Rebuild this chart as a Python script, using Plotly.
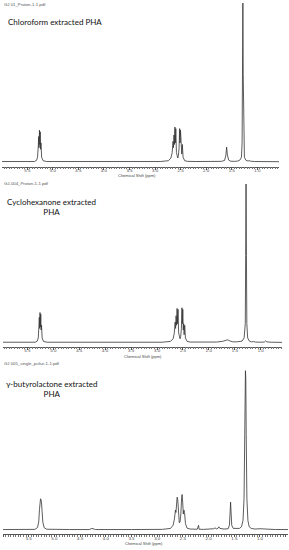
import plotly.graph_objects as go

W, H = 289, 550

# ---- spectrum data (ppm, relative intensity) ----
spec_chloroform = [
    (5.995, 0.003), (5.60, 0.002), (5.36, 0.003), (5.32, 0.01), (5.30, 0.03),
    (5.285, 0.10), (5.278, 0.16), (5.27, 0.09), (5.262, 0.20), (5.255, 0.11),
    (5.247, 0.19), (5.24, 0.08), (5.232, 0.12), (5.22, 0.03), (5.19, 0.008),
    (5.12, 0.003), (4.60, 0.002), (4.00, 0.002), (3.40, 0.002), (2.90, 0.003),
    (2.74, 0.008), (2.69, 0.025), (2.665, 0.06), (2.648, 0.13), (2.640, 0.09),
    (2.630, 0.17), (2.621, 0.11), (2.612, 0.22), (2.603, 0.12), (2.594, 0.21),
    (2.582, 0.06), (2.568, 0.03), (2.556, 0.025), (2.543, 0.04), (2.530, 0.09),
    (2.519, 0.21), (2.511, 0.12), (2.503, 0.20), (2.494, 0.08), (2.486, 0.12),
    (2.477, 0.05), (2.466, 0.11), (2.452, 0.03), (2.42, 0.008), (2.36, 0.004),
    (2.20, 0.003), (1.90, 0.003), (1.70, 0.004), (1.64, 0.01), (1.615, 0.04),
    (1.60, 0.094), (1.585, 0.045), (1.56, 0.012), (1.52, 0.005), (1.45, 0.004),
    (1.38, 0.006), (1.34, 0.012), (1.31, 0.03), (1.297, 0.12), (1.289, 0.55),
    (1.282, 1.0), (1.275, 0.55), (1.267, 0.12), (1.252, 0.03), (1.22, 0.01),
    (1.18, 0.006), (1.16, 0.009), (1.13, 0.005), (1.05, 0.003), (0.85, 0.002),
    (0.575, 0.002),
]

spec_cyclohexanone = [
    (5.97, 0.003), (5.60, 0.002), (5.35, 0.003), (5.31, 0.01), (5.29, 0.03),
    (5.278, 0.10), (5.27, 0.16), (5.263, 0.09), (5.256, 0.19), (5.249, 0.10),
    (5.242, 0.18), (5.235, 0.08), (5.227, 0.11), (5.215, 0.03), (5.19, 0.008),
    (5.12, 0.003), (4.60, 0.002), (4.00, 0.002), (3.40, 0.002), (2.90, 0.003),
    (2.74, 0.008), (2.69, 0.025), (2.667, 0.06), (2.650, 0.13), (2.642, 0.09),
    (2.632, 0.17), (2.623, 0.11), (2.613, 0.216), (2.604, 0.12), (2.595, 0.21),
    (2.583, 0.06), (2.568, 0.03), (2.556, 0.025), (2.543, 0.04), (2.530, 0.09),
    (2.519, 0.22), (2.511, 0.12), (2.503, 0.21), (2.494, 0.08), (2.486, 0.12),
    (2.477, 0.05), (2.466, 0.11), (2.452, 0.03), (2.42, 0.008), (2.36, 0.004),
    (2.10, 0.003), (1.85, 0.004), (1.74, 0.008), (1.68, 0.015), (1.64, 0.018),
    (1.60, 0.012), (1.55, 0.006), (1.47, 0.005), (1.43, 0.008), (1.40, 0.006),
    (1.36, 0.01), (1.32, 0.03), (1.298, 0.12), (1.29, 0.55), (1.283, 1.0),
    (1.276, 0.55), (1.268, 0.12), (1.252, 0.03), (1.22, 0.01), (1.18, 0.005),
    (1.14, 0.007), (1.10, 0.004), (1.00, 0.003), (0.93, 0.004), (0.905, 0.012),
    (0.885, 0.005), (0.80, 0.003), (0.59, 0.002),
]

spec_butyrolactone = [
    (6.00, 0.003), (5.60, 0.003), (5.38, 0.004), (5.33, 0.015), (5.305, 0.05),
    (5.29, 0.13), (5.28, 0.185), (5.27, 0.196), (5.26, 0.19), (5.25, 0.17),
    (5.24, 0.12), (5.225, 0.05), (5.20, 0.015), (5.15, 0.005), (4.70, 0.003),
    (4.32, 0.003), (4.27, 0.01), (4.24, 0.008), (4.20, 0.003), (3.50, 0.003),
    (2.90, 0.004), (2.74, 0.01), (2.69, 0.03), (2.665, 0.07), (2.645, 0.125),
    (2.635, 0.11), (2.622, 0.18), (2.612, 0.206), (2.600, 0.19), (2.585, 0.08),
    (2.57, 0.045), (2.555, 0.05), (2.54, 0.10), (2.525, 0.20), (2.515, 0.223),
    (2.503, 0.17), (2.492, 0.10), (2.48, 0.125), (2.468, 0.11), (2.45, 0.04),
    (2.42, 0.012), (2.36, 0.006), (2.22, 0.005), (2.195, 0.03), (2.185, 0.005),
    (2.10, 0.004), (1.95, 0.005), (1.90, 0.008), (1.875, 0.014), (1.85, 0.007),
    (1.82, 0.01), (1.80, 0.02), (1.78, 0.01), (1.70, 0.006), (1.62, 0.008),
    (1.595, 0.03), (1.58, 0.12), (1.572, 0.175), (1.564, 0.12), (1.55, 0.03),
    (1.52, 0.01), (1.45, 0.008), (1.40, 0.01), (1.36, 0.02), (1.33, 0.06),
    (1.31, 0.2), (1.298, 0.6), (1.29, 0.95), (1.283, 1.0), (1.276, 0.95),
    (1.268, 0.6), (1.255, 0.2), (1.235, 0.06), (1.21, 0.02), (1.17, 0.01),
    (1.10, 0.006), (1.00, 0.008), (0.92, 0.006), (0.85, 0.004), (0.70, 0.003),
    (0.455, 0.003),
]

file_names = ["GJ 01_Proton-1-1.pdf", "GJ-004_Proton-1-1.pdf", "GJ 005_single_pulse-1-1.pdf"]
titles = ["Chloroform extracted PHA", "Cyclohexanone extracted<br>PHA", "γ-butyrolactone extracted<br>PHA"]
x_label = "Chemical Shift (ppm)"

# ---- layout in pixel terms ----
panels = [
    dict(data=spec_chloroform, xpx=(2, 279), xr=(5.995, 0.575), ypx=(166.5, 2), yr=(-0.0283, 1.0063),
         head_y=4, title_y=22, title_x=5.5, centered=False, lab_y=175.5, lab_x=136.5),
    dict(data=spec_cyclohexanone, xpx=(3, 282), xr=(5.97, 0.59), ypx=(346.5, 183), yr=(-0.024, 1.0063),
         head_y=183, title_y=207.5, title_x=51.5, centered=True, lab_y=356.5, lab_x=142.5),
    dict(data=spec_butyrolactone, xpx=(3, 288), xr=(6.0, 0.455), ypx=(534, 369), yr=(-0.025, 1.0107),
         head_y=363.5, title_y=389, title_x=52, centered=True, lab_y=543.5, lab_x=143.5),
]

fig = go.Figure()
annotations = []
line_col = "#333333"
for i, p in enumerate(panels):
    n = "" if i == 0 else str(i + 1)
    xs = [a for a, b in p["data"]]
    ys = [b for a, b in p["data"]]
    fig.add_trace(go.Scatter(x=xs, y=ys, mode="lines", line=dict(color=line_col, width=0.8),
                             xaxis="x" + n, yaxis="y" + n, hoverinfo="skip", showlegend=False))
    xd = [p["xpx"][0] / W, p["xpx"][1] / W]
    yd = [1 - p["ypx"][0] / H, 1 - p["ypx"][1] / H]
    fig.layout["xaxis" + n] = dict(
        domain=xd, range=list(p["xr"]), anchor="y" + n, showgrid=False, zeroline=False,
        showline=True, linecolor="#555555", linewidth=0.8, ticks="outside", ticklen=2.5,
        tickwidth=0.6, tickcolor="#555555", dtick=0.5, tick0=0, tickformat=".1f",
        tickfont=dict(size=4.4, color="#444444", family="Liberation Sans"),
        ticklabelstandoff=-3,
        minor=dict(dtick=0.05, ticks="outside", ticklen=1.6, tickcolor="#777777", tickwidth=0.5),
        fixedrange=True)
    fig.layout["yaxis" + n] = dict(domain=yd, range=list(p["yr"]), anchor="x" + n, visible=False,
                                   fixedrange=True)
    annotations.append(dict(text=file_names[i], x=2 / W, y=1 - p["head_y"] / H, xref="paper", yref="paper",
                            xanchor="left", yanchor="middle", showarrow=False,
                            font=dict(size=4.3, color="#555555", family="Liberation Sans")))
    annotations.append(dict(text=titles[i], x=p["title_x"] / W, y=1 - p["title_y"] / H,
                            xref="paper", yref="paper",
                            xanchor="center" if p["centered"] else "left", yanchor="middle",
                            align="center", showarrow=False,
                            font=dict(size=8, color="#111111", family="Lato")))
    annotations.append(dict(text=x_label, x=p["lab_x"] / W, y=1 - p["lab_y"] / H,
                            xref="paper", yref="paper", xanchor="center", yanchor="middle",
                            showarrow=False, font=dict(size=4, color="#444444", family="Liberation Sans")))

fig.update_layout(width=W, height=H, margin=dict(l=0, r=0, t=0, b=0), paper_bgcolor="white",
                  plot_bgcolor="white", annotations=annotations, showlegend=False)
fig.write_html("out.html", config={"displayModeBar": False},
               post_script="document.body.style.margin='0';document.body.style.padding='0';")
